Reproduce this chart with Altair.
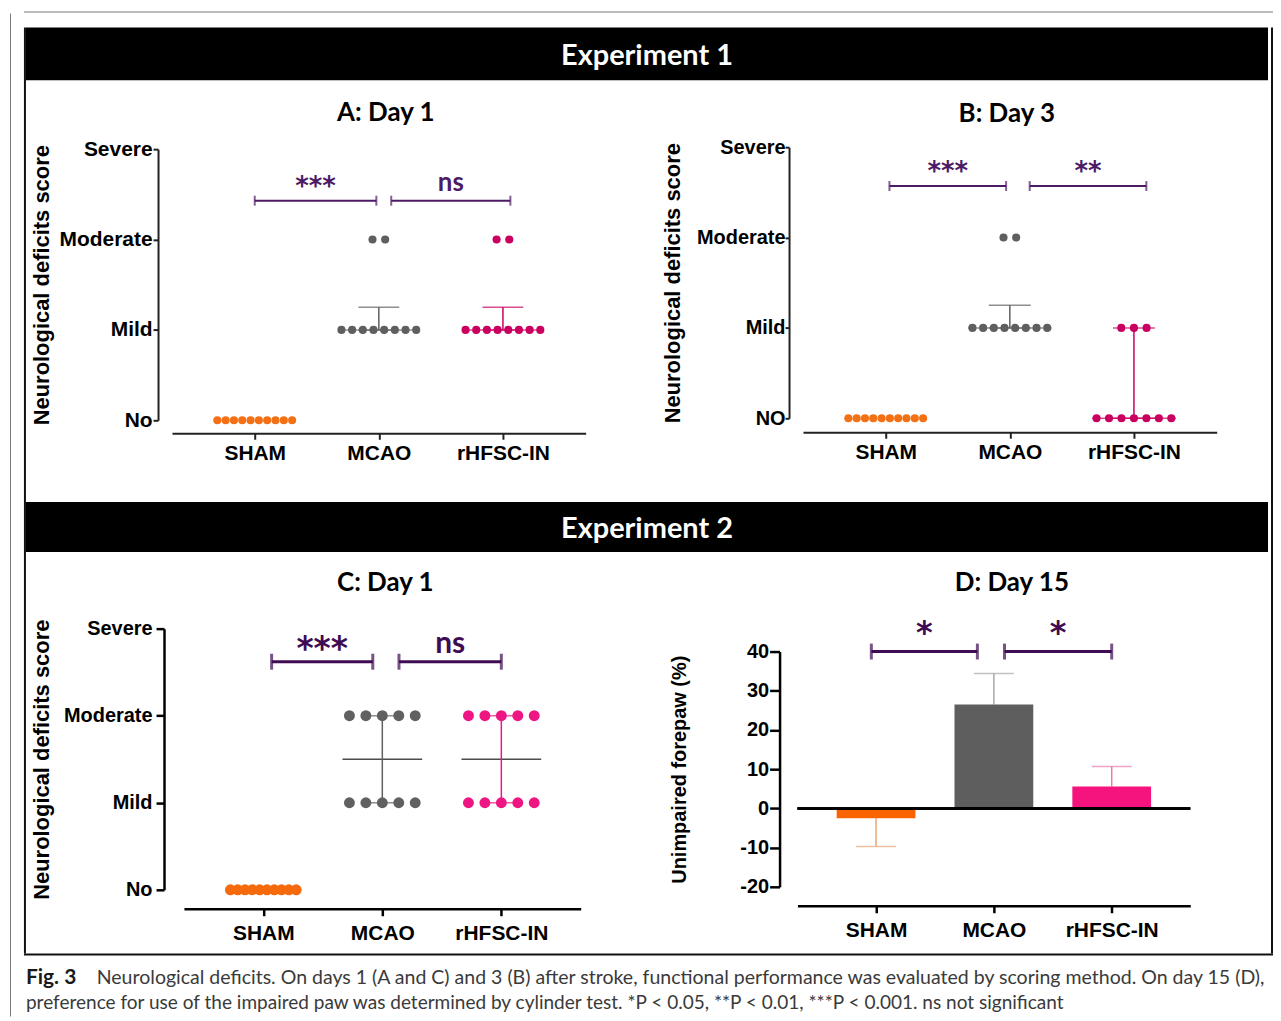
import altair as alt
import pandas as pd

# ------------------------------------------------------------------ data
GROUPS = ["SHAM", "MCAO", "rHFSC-IN"]
LEVELS_A = ["No", "Mild", "Moderate", "Severe"]
LEVELS_B = ["NO", "Mild", "Moderate", "Severe"]
HEADERS = ["Experiment 1", "Experiment 2"]
TITLES = ["A: Day 1", "B: Day 3", "C: Day 1", "D: Day 15"]
Y_TITLE_SCORE = "Neurological deficits score"
Y_TITLE_PAW = "Unimpaired forepaw (%)"

# scores per animal: 0 = No, 1 = Mild, 2 = Moderate, 3 = Severe
A_SHAM = [0, 0, 0, 0, 0, 0, 0, 0, 0, 0]
A_MCAO = [1, 1, 1, 1, 1, 1, 1, 1, 2, 2]
A_RHFSC = [1, 1, 1, 1, 1, 1, 1, 1, 2, 2]
A_MEDIAN = [0, 1, 1]
A_Q1 = [0, 1, 1]
A_Q3 = [0, 1.25, 1.25]
A_SIG_LABEL = ["***", "ns"]
A_SIG_FROM = [0.0, 1.10]
A_SIG_TO = [0.98, 2.06]
A_SIG_LEVEL = [2.43, 2.43]

B_SHAM = [0, 0, 0, 0, 0, 0, 0, 0, 0, 0]
B_MCAO = [1, 1, 1, 1, 1, 1, 1, 1, 2, 2]
B_RHFSC = [0, 0, 0, 0, 0, 0, 0, 1, 1, 1]
B_MEDIAN = [0, 1, 0]
B_Q1 = [0, 1, 0]
B_Q3 = [0, 1.25, 1]
B_SIG_LABEL = ["***", "**"]
B_SIG_FROM = [0.03, 1.16]
B_SIG_TO = [0.97, 2.10]
B_SIG_LEVEL = [2.57, 2.57]

C_SHAM = [0, 0, 0, 0, 0, 0, 0, 0, 0, 0]
C_MCAO = [1, 1, 1, 1, 1, 2, 2, 2, 2, 2]
C_RHFSC = [1, 1, 1, 1, 1, 2, 2, 2, 2, 2]
C_MEDIAN = [0, 1.5, 1.5]
C_Q1 = [0, 1, 1]
C_Q3 = [0, 2, 2]
C_SIG_LABEL = ["***", "ns"]
C_SIG_FROM = [0.07, 1.14]
C_SIG_TO = [0.92, 2.00]
C_SIG_LEVEL = [2.62, 2.62]

D_MEAN = [-2.5, 26.5, 5.6]
D_SEM = [7.2, 7.9, 5.1]
D_TICKS = [-20, -10, 0, 10, 20, 30, 40]
D_SIG_LABEL = ["*", "*"]
D_SIG_FROM = [-0.04, 1.09]
D_SIG_TO = [0.86, 2.00]
D_SIG_LEVEL = [40, 40]

CAPTION = [
    "Fig. 3",
    "Neurological deficits. On days 1 (A and C) and 3 (B) after stroke, functional performance was evaluated by scoring method. On day 15 (D),",
    "preference for use of the impaired paw was determined by cylinder test. *P < 0.05, **P < 0.01, ***P < 0.001. ns not significant",
]

# ------------------------------------------------------------------ styles
AX_FONT = "Liberation Sans"
TT_FONT = "Lato"
STAR_FONT = "DejaVu Sans"
COL_AB = ["#F47015", "#5F5F5F", "#C9005F"]
COL_C = ["#F56A0C", "#606060", "#EE1683"]
COL_D_BAR = ["#FA6400", "#5E5E5E", "#F5147E"]
COL_D_ERR = ["#E9A678", "#A8A8A8", "#E87BB0"]
SIG_AB = "#4D1A66"
SIG_CD = "#3F0B52"
XDOM = [-2 / 3, 8 / 3]
X_LABEL_EXPR = "[" + ",".join("'%s'" % g for g in GROUPS) + "][datum.value]"


def level_expr(levels):
    return "[" + ",".join("'%s'" % l for l in levels) + "][datum.value]"


def x_axis(offset, tick, tick_w, dom_w, pad, col):
    return alt.Axis(values=[0, 1, 2], labelExpr=X_LABEL_EXPR, title=None, grid=False,
                    offset=offset, domainColor=col, domainWidth=dom_w, tickColor=col,
                    tickWidth=tick_w, tickSize=tick, labelFont=AX_FONT, labelFontSize=21,
                    labelFontWeight="bold", labelColor="black", labelPadding=pad,
                    labelFlush=False, labelOverlap=False)


def spacer(w, h):
    return alt.Chart(pd.DataFrame({"a": []})).mark_point().properties(width=w, height=h)


def bar(w, h, color):
    return spacer(w, h).properties(view=alt.ViewBackground(fill=color))


def sig_layers(sig_label, sig_from, sig_to, sig_level, X, Y, col, sw, end_size,
               star_size, star_dy, ns_size, ns_dy):
    sig = pd.DataFrame({"x1": sig_from, "x2": sig_to, "lvl": sig_level, "label": sig_label})
    sig["xm"] = (sig["x1"] + sig["x2"]) / 2
    ends = pd.DataFrame({"x": sig_from + sig_to, "lvl": sig_level + sig_level})
    brk = alt.Chart(sig).mark_rule(strokeWidth=sw, color=col).encode(
        x=X("x1"), x2=alt.X2("x2"), y=Y("lvl"))
    endl = alt.Chart(ends).mark_tick(orient="vertical", size=end_size, thickness=sw,
                                     color=col).encode(x=X("x"), y=Y("lvl"))
    stars = alt.Chart(sig).transform_filter("datum.label != 'ns'").mark_text(
        font=STAR_FONT, fontSize=star_size, fontWeight="bold", color=col,
        baseline="alphabetic", dy=star_dy).encode(x=X("xm"), y=Y("lvl"), text="label:N")
    ns = alt.Chart(sig).transform_filter("datum.label == 'ns'").mark_text(
        font=TT_FONT, fontSize=ns_size, fontWeight="bold", color=col,
        baseline="alphabetic", dy=ns_dy).encode(x=X("xm"), y=Y("lvl"), text="label:N")
    return [brk, endl, stars, ns]


def title_params(text, offset, dx):
    return alt.TitleParams(text, font=TT_FONT, fontSize=26, fontWeight="bold",
                           color="black", anchor="middle", frame="group",
                           offset=offset, dx=dx, baseline="bottom")


def dot_panel(title, tdx, toff, scores, med, q1, q3, levels, cols, med_col,
              width, height, ytop, xoff, yoff, dsize, max_gap, max_span, cap_w, med_w,
              sig, sig_col, sig_w, end_size, star_size, star_dy, ns_size, ns_dy,
              ylab_size, ylab_pad, ytick, ytp, dom_w, xtick, xpad, ax_col):
    ppu = width / (XDOM[1] - XDOM[0])
    rows = []
    for gi, sc in enumerate(scores):
        for lvl in sorted(set(sc)):
            n = sc.count(lvl)
            gap = max_gap if n < 2 else min(max_gap, max_span / (n - 1))
            for k in range(n):
                rows.append({"x": gi + (k - (n - 1) / 2) * gap / ppu, "score": lvl,
                             "c": cols[gi]})
    dots = pd.DataFrame(rows)
    stats = pd.DataFrame({"x": [0, 1, 2], "med": med, "q1": q1, "q3": q3, "c": cols,
                          "mc": [med_col or c for c in cols]})
    caps = pd.DataFrame({"x": [0, 1, 2, 0, 1, 2], "y": q1 + q3, "c": cols + cols,
                         "lo": q1 + q1, "hi": q3 + q3})

    xs = alt.Scale(domain=XDOM, nice=False, zero=False, padding=0)
    ys = alt.Scale(domain=[0, 3], range=[height, ytop], nice=False, zero=False, padding=0)
    xa = x_axis(xoff, xtick, dom_w, dom_w, xpad, ax_col)
    ya = alt.Axis(values=[0, 1, 2, 3], labelExpr=level_expr(levels), title=Y_TITLE_SCORE,
                  titleFont=AX_FONT, titleFontSize=22, titleFontWeight="bold",
                  titleColor="black", titlePadding=ytp, labelFont=AX_FONT,
                  labelFontSize=ylab_size, labelFontWeight="bold", labelColor="black",
                  labelPadding=ylab_pad, tickSize=ytick, tickWidth=dom_w, tickColor=ax_col,
                  domainWidth=dom_w, domainColor=ax_col, grid=False, offset=yoff,
                  labelFlush=False, labelOverlap=False)

    def X(f):
        return alt.X(f + ":Q", scale=xs, axis=xa)

    def Y(f):
        return alt.Y(f + ":Q", scale=ys, axis=ya)

    def C(f):
        return alt.Color(f + ":N", scale=None, legend=None)

    median_l = alt.Chart(stats).transform_filter("datum.q3 > datum.q1").mark_tick(
        orient="horizontal", size=med_w, thickness=1.5).encode(x=X("x"), y=Y("med"), color=C("mc"))
    whisk = alt.Chart(stats).transform_filter("datum.q3 > datum.q1").mark_rule(
        strokeWidth=1.5).encode(x=X("x"), y=Y("q1"), y2=alt.Y2("q3"), color=C("c"))
    caps_l = alt.Chart(caps).transform_filter("datum.hi > datum.lo").mark_tick(
        orient="horizontal", size=cap_w, thickness=1.5).encode(x=X("x"), y=Y("y"), color=C("c"))
    dots_l = alt.Chart(dots).mark_circle(size=dsize, opacity=1).encode(
        x=X("x"), y=Y("score"), color=C("c"))
    layers = [median_l, whisk, caps_l, dots_l] + sig_layers(
        *sig, X, Y, sig_col, sig_w, end_size, star_size, star_dy, ns_size, ns_dy)
    return alt.layer(*layers).properties(width=width, height=height,
                                         title=title_params(title, toff, tdx))


def bar_panel():
    width, height, ytop = 394, 259, 23
    xs = alt.Scale(domain=XDOM, nice=False, zero=False, padding=0)
    ys = alt.Scale(domain=[D_TICKS[0], D_TICKS[-1]], range=[height, ytop],
                   nice=False, zero=False, padding=0)
    xa = x_axis(19, 7, 2.5, 2.5, 6.5, "black")
    ya = alt.Axis(values=D_TICKS, labelExpr="'' + datum.value", title=Y_TITLE_PAW,
                  titleFont=AX_FONT, titleFontSize=20, titleFontWeight="bold",
                  titleColor="black", titlePadding=50.6, labelFont=AX_FONT,
                  labelFontSize=20, labelFontWeight="bold", labelColor="black",
                  labelPadding=1, tickSize=10, tickWidth=2.5, tickColor="black",
                  domainWidth=2.5, domainColor="black", grid=False, offset=18,
                  labelFlush=False, labelOverlap=False)

    def X(f):
        return alt.X(f + ":Q", scale=xs, axis=xa)

    def Y(f):
        return alt.Y(f + ":Q", scale=ys, axis=ya)

    df = pd.DataFrame({"x": [0, 1, 2], "mean": D_MEAN, "sem": D_SEM,
                       "cb": COL_D_BAR, "ce": COL_D_ERR})
    df["zero"] = 0.0
    df["end"] = [m + s if m >= 0 else m - s for m, s in zip(D_MEAN, D_SEM)]
    err = alt.Chart(df).mark_rule(strokeWidth=1.5).encode(
        x=X("x"), y=Y("mean"), y2=alt.Y2("end"),
        color=alt.Color("ce:N", scale=None, legend=None))
    caps = alt.Chart(df).mark_tick(orient="horizontal", size=40, thickness=1.5).encode(
        x=X("x"), y=Y("end"), color=alt.Color("ce:N", scale=None, legend=None))
    bars = alt.Chart(df).mark_bar(size=79).encode(
        x=X("x"), y=Y("mean"), y2=alt.Y2("zero"),
        color=alt.Color("cb:N", scale=None, legend=None))
    zero = alt.Chart(df).mark_rule(strokeWidth=2.5, color="black").encode(y=Y("zero"))
    layers = [err, caps, bars, zero] + sig_layers(
        D_SIG_LABEL, D_SIG_FROM, D_SIG_TO, D_SIG_LEVEL, X, Y, SIG_CD, 3, 16,
        32, -9, 30, -10)
    return alt.layer(*layers).properties(width=width, height=height,
                                         title=title_params(TITLES[3], -5.4, 18))


panel_a = dot_panel(TITLES[0], 7, -13.9, [A_SHAM, A_MCAO, A_RHFSC], A_MEDIAN, A_Q1, A_Q3,
                    LEVELS_A, COL_AB, None, 415, 274, 2, 13, 14, 66, 12.7, 75, 41, 80,
                    (A_SIG_LABEL, A_SIG_FROM, A_SIG_TO, A_SIG_LEVEL), SIG_AB, 2, 10,
                    26, -6, 26, -10, 21, 1, 5, 5.5, 2, 6, 3.5, "#222")
panel_b = dot_panel(TITLES[1], -3, -15.4, [B_SHAM, B_MCAO, B_RHFSC], B_MEDIAN, B_Q1, B_Q3,
                    LEVELS_B, COL_AB, None, 415, 272, 0, 14, 14, 66, 12.7, 75, 42, 84,
                    (B_SIG_LABEL, B_SIG_FROM, B_SIG_TO, B_SIG_LEVEL), SIG_AB, 2, 10,
                    26, -6, 26, -10, 20, 0, 4, 11.5, 2, 6, 3.5, "#222")
panel_c = dot_panel(TITLES[2], 3, -3.4, [C_SHAM, C_MCAO, C_RHFSC], C_MEDIAN, C_Q1, C_Q3,
                    LEVELS_A, COL_C, "black", 398, 262, 0, 19, 20, 120, 16.7, 66, 40, 80,
                    (C_SIG_LABEL, C_SIG_FROM, C_SIG_TO, C_SIG_LEVEL), SIG_CD, 3, 16,
                    33, -2, 30, -9, 20, 4, 8, 9.6, 2.5, 7, 6.5, "black")
panel_d = bar_panel()


def header(text, h):
    return alt.Chart(pd.DataFrame({"t": [text]})).mark_text(
        font=TT_FONT, fontSize=29, fontWeight="bold", color="white", baseline="middle",
        dy=2).encode(text="t:N").properties(
        width=1246, height=h, view=alt.ViewBackground(fill="black"))


row1 = alt.hconcat(alt.hconcat(spacer(1, 1), panel_a, spacing=3.5), panel_b, spacing=75.5)
row2 = alt.hconcat(alt.hconcat(spacer(1, 1), panel_c, spacing=3.5), panel_d, spacing=88)

inner = alt.vconcat(header(HEADERS[0], 53), spacer(1, 18.5), row1, spacer(1, 38),
                    header(HEADERS[1], 50), spacer(1, 18), row2, spacing=0)

box_row = alt.hconcat(bar(2, 929, "#111111"), inner, spacer(3, 1), bar(2, 929, "#111111"),
                      spacing=0)


def cap_text(text, weight, xv, yv, size, color):
    return alt.Chart(pd.DataFrame({"t": [text]})).mark_text(
        align="left", baseline="middle", font=TT_FONT, fontSize=size, fontWeight=weight,
        color=color).encode(text="t:N", x=alt.value(xv), y=alt.value(yv))


caption = alt.layer(
    cap_text(CAPTION[0], "bold", 2, 22, 21, "#1a1a1a"),
    cap_text(CAPTION[1], "normal", 73, 22, 19.6, "#3a3a3a"),
    cap_text(CAPTION[2], "normal", 2, 47.5, 19.1, "#3a3a3a"),
).properties(width=1253, height=38)

box_col = alt.vconcat(box_row, bar(1253, 2, "#111111"), caption, spacing=0)
right_col = alt.vconcat(bar(1253, 1, "#7a7a7a"), box_col, spacing=15)
left_col = alt.vconcat(spacer(1, 1), bar(1, 1006, "#7a7a7a"), spacing=1)
left_part = alt.hconcat(spacer(1, 1), left_col, spacing=1)

chart = alt.vconcat(
    spacer(1, 1),
    alt.hconcat(left_part, right_col, spacing=13),
    spacing=1,
).properties(padding=0, background="white").configure_view(strokeWidth=0)

chart.save("out.html", embed_options={"renderer": "svg", "actions": False})
